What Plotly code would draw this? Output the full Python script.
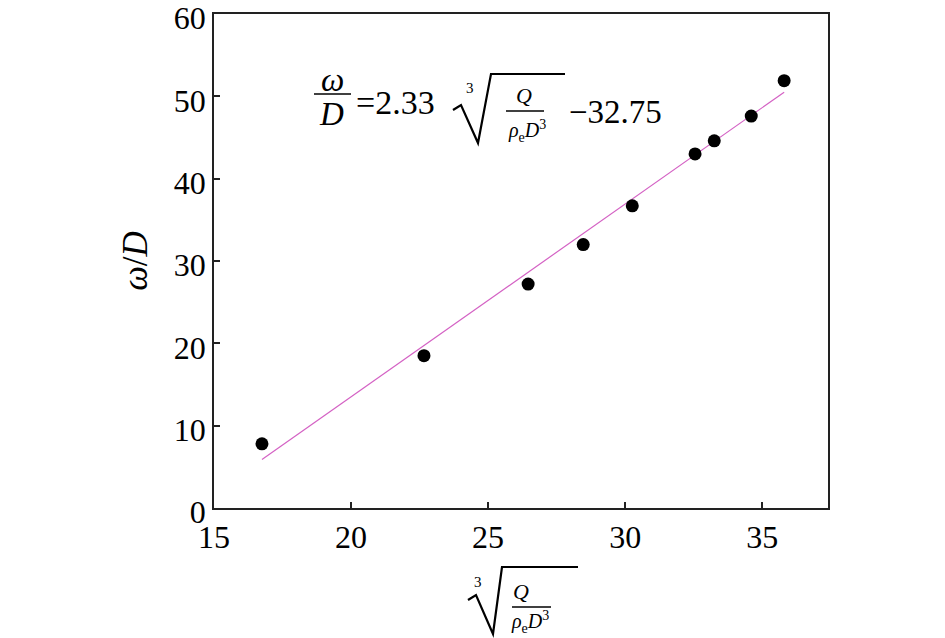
import plotly.graph_objects as go

# Data
x_vals = [16.75, 22.66, 26.46, 28.47, 30.26, 32.55, 33.25, 34.6, 35.8]
y_vals = [7.8, 18.5, 27.2, 32.0, 36.7, 43.0, 44.6, 47.6, 51.9]
fit_x = [16.75, 35.8]
fit_y = [5.9, 50.5]
x_ticks = [15, 20, 25, 30, 35]
y_ticks = [0, 10, 20, 30, 40, 50, 60]

W, H = 945, 638
L, R, T, B = 214, 828, 14, 508
FONT = "Liberation Serif, Times New Roman, serif"


def px(x):
    return (x - L) / (R - L)


def py(y):
    return (B - y) / (B - T)


fig = go.Figure()
fig.add_trace(go.Scatter(x=fit_x, y=fit_y, mode="lines",
                         line=dict(color="#d462c4", width=1.2),
                         showlegend=False, hoverinfo="skip"))
fig.add_trace(go.Scatter(x=x_vals, y=y_vals, mode="markers",
                         marker=dict(color="black", size=13,
                                     line=dict(width=0)),
                         showlegend=False))

annotations = []
shapes = []


def txt(x, y, s, size, xanchor="center"):
    annotations.append(dict(x=px(x), y=py(y), xref="paper", yref="paper",
                            text=s, showarrow=False, xanchor=xanchor,
                            yanchor="middle",
                            font=dict(family=FONT, size=size, color="black")))


def hline(x0, x1, y, w=1.6):
    shapes.append(dict(type="line", xref="paper", yref="paper",
                       x0=px(x0), x1=px(x1), y0=py(y), y1=py(y),
                       line=dict(color="black", width=w)))


def radical(pts, w=1.6):
    path = "M " + " L ".join(f"{px(a)},{py(b)}" for a, b in pts)
    shapes.append(dict(type="path", xref="paper", yref="paper", path=path,
                       line=dict(color="black", width=w)))


# Equation at top
txt(332, 80, "<i>ω</i>", 33)
hline(314, 351, 94)
txt(331, 114, "<i>D</i>", 33)
txt(354, 102, "=2.33", 34, xanchor="left")
txt(470, 88, "3", 15)
radical([(453, 110), (461, 105), (478, 143), (491, 74), (565, 74)], 2.2)
txt(524, 95, "<i>Q</i>", 22)
hline(506, 544, 111, 1.4)
txt(527, 131, "<i>ρ</i><sub>e</sub><i>D</i><sup>3</sup>", 20)
txt(567, 112, "−32.75", 33, xanchor="left")

# X-axis title
txt(478, 582, "3", 15)
radical([(468, 600), (476, 595), (493, 634), (502, 567), (578, 567)], 2.2)
txt(521, 591, "<i>Q</i>", 22)
hline(512, 551, 607, 1.4)
txt(530, 622, "<i>ρ</i><sub>e</sub><i>D</i><sup>3</sup>", 20)

fig.update_layout(
    width=W, height=H,
    margin=dict(l=L, r=W - R, t=T, b=H - B, autoexpand=False),
    plot_bgcolor="white", paper_bgcolor="white",
    font=dict(family=FONT, size=32, color="black"),
    annotations=annotations, shapes=shapes,
    xaxis=dict(range=[15, 37.4], tickvals=x_ticks, ticks="inside",
               ticklen=6, tickwidth=1.5, tickcolor="#222",
               showline=True, linecolor="#222", linewidth=1.8, mirror=True,
               showgrid=False, zeroline=False, ticklabeloverflow="allow",
               automargin=False,
               tickfont=dict(family=FONT, size=32)),
    yaxis=dict(range=[0, 60], tickvals=y_ticks, ticks="inside",
               ticklen=6, tickwidth=1.5, tickcolor="#222",
               showline=True, linecolor="#222", linewidth=1.8, mirror=True,
               showgrid=False, zeroline=False, ticklabeloverflow="allow",
               automargin=False, ticklabelshift=4,
               tickfont=dict(family=FONT, size=32),
               title=dict(text="<i>ω</i>/<i>D</i>", standoff=15,
                          font=dict(family=FONT, size=35))),
)

fig.write_html("out.html",
               config={"displayModeBar": False},
               post_script="document.body.style.margin='0';"
                           "document.body.style.overflow='hidden';")
